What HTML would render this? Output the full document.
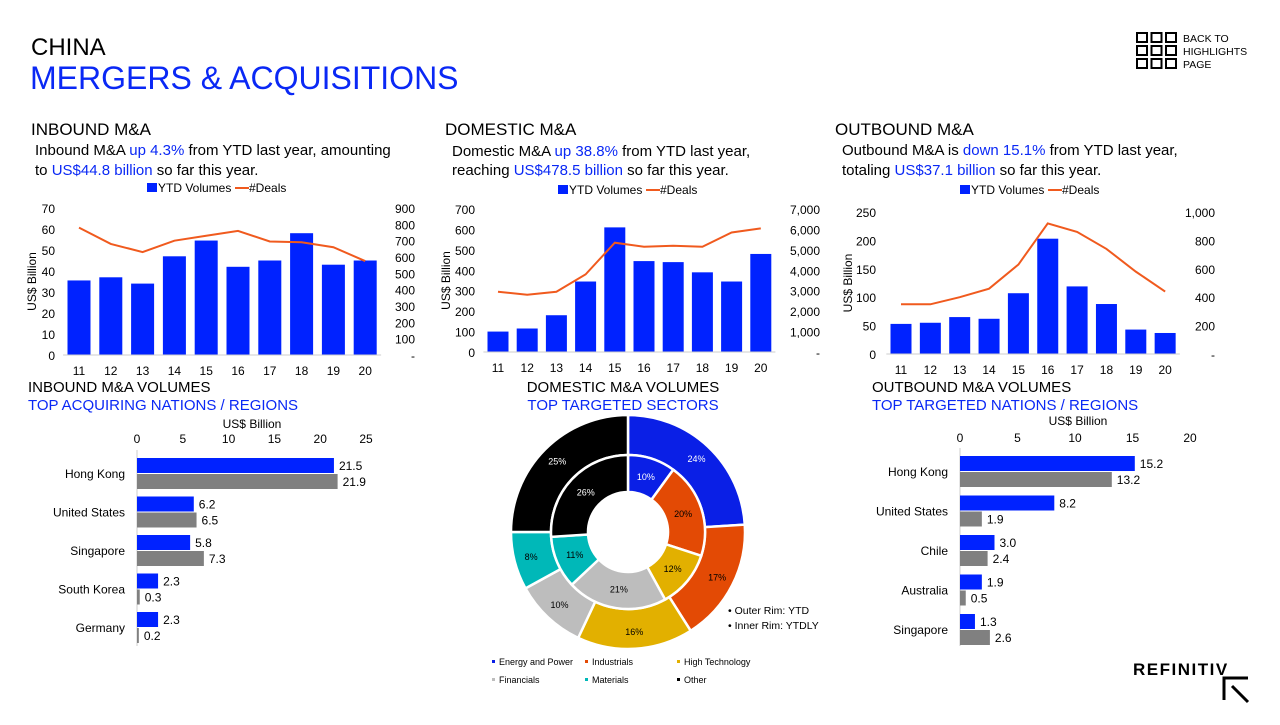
<!DOCTYPE html>
<html><head><meta charset="utf-8">
<style>
html,body{margin:0;padding:0;background:#fff;}
body{width:1280px;height:720px;overflow:hidden;position:relative;font-family:"Liberation Sans",Arial,sans-serif;}
svg text{font-family:"Liberation Sans",Arial,sans-serif;}
</style></head>
<body>
<svg id="s" width="1280" height="720" viewBox="0 0 1280 720" xmlns="http://www.w3.org/2000/svg">
<text x="31" y="55" font-size="24" fill="#000">CHINA</text>
<text x="30" y="89" font-size="32" fill="#0a28f5">MERGERS &amp; ACQUISITIONS</text>
<g id="back"></g>
<text x="1183" y="42" font-size="10.5" fill="#000">BACK TO</text>
<text x="1183" y="55" font-size="10.5" fill="#000">HIGHLIGHTS</text>
<text x="1183" y="68" font-size="10.5" fill="#000">PAGE</text>

<text x="31" y="135" font-size="17">INBOUND M&amp;A</text>
<text x="35" y="155" font-size="15">Inbound M&amp;A <tspan fill="#0a28f5">up 4.3%</tspan> from YTD last year, amounting</text>
<text x="35" y="175" font-size="15">to <tspan fill="#0a28f5">US$44.8 billion</tspan> so far this year.</text>

<text x="445" y="135" font-size="17">DOMESTIC M&amp;A</text>
<text x="452" y="156" font-size="15">Domestic M&amp;A <tspan fill="#0a28f5">up 38.8%</tspan> from YTD last year,</text>
<text x="452" y="175" font-size="15">reaching <tspan fill="#0a28f5">US$478.5 billion</tspan> so far this year.</text>

<text x="835" y="135" font-size="17">OUTBOUND M&amp;A</text>
<text x="842" y="155" font-size="15">Outbound M&amp;A is <tspan fill="#0a28f5">down 15.1%</tspan> from YTD last year,</text>
<text x="842" y="175" font-size="15">totaling <tspan fill="#0a28f5">US$37.1 billion</tspan> so far this year.</text>

<text x="28" y="392" font-size="15">INBOUND M&amp;A VOLUMES</text>
<text x="28" y="410" font-size="15" fill="#0a28f5">TOP ACQUIRING NATIONS / REGIONS</text>
<text x="623" y="392" font-size="15" text-anchor="middle">DOMESTIC M&amp;A VOLUMES</text>
<text x="623" y="410" font-size="15" fill="#0a28f5" text-anchor="middle">TOP TARGETED SECTORS</text>
<text x="872" y="392" font-size="15">OUTBOUND M&amp;A VOLUMES</text>
<text x="872" y="410" font-size="15" fill="#0a28f5">TOP TARGETED NATIONS / REGIONS</text>

<text x="1133" y="675" font-size="17" font-weight="bold" letter-spacing="1.5">REFINITIV</text>
<path d="M1224 700 V678 H1248 M1232 686 L1248 702" stroke="#000" stroke-width="3" fill="none"/>
<g id="charts"></g>
</svg>
<script>
// ===== Data =====
const years = ["11","12","13","14","15","16","17","18","19","20"];
const inboundVol = [35.5,37,34,47,54.5,42,45,58,43,45];
const inboundDeals = [780,680,630,700,730,760,695,690,660,575];
const domesticVol = [100,115,180,345,610,445,440,390,345,480];
const domesticDeals = [2950,2800,2950,3800,5350,5150,5200,5150,5850,6050];
const outboundVol = [53,55,65,62,107,203,119,88,43,37];
const outboundDeals = [350,350,400,460,630,920,860,740,580,440];
const inboundNations = ["Hong Kong","United States","Singapore","South Korea","Germany"];
const inboundYTD = [21.5,6.2,5.8,2.3,2.3];
const inboundYTDLY = [21.9,6.5,7.3,0.3,0.2];
const outboundNations = ["Hong Kong","United States","Chile","Australia","Singapore"];
const outboundYTD = [15.2,8.2,3.0,1.9,1.3];
const outboundYTDLY = [13.2,1.9,2.4,0.5,2.6];
const sectors = ["Energy and Power","Industrials","High Technology","Financials","Materials","Other"];
const outerRim = [24,17,16,10,8,25];
const innerRim = [10,20,12,21,11,26];

const BLUE="#0022ff", ORANGE="#f05a1e", GRAY="#808080";
const sectorColors=["#0a1fe6","#e34a05","#e2b000","#bdbdbd","#00b8b8","#000000"];
const NS="http://www.w3.org/2000/svg";
const root=document.getElementById('charts');
function mk(tag,attrs,parent,txt){const e=document.createElementNS(NS,tag);for(const k in attrs)e.setAttribute(k,attrs[k]);if(txt!==undefined)e.textContent=txt;(parent||root).appendChild(e);return e;}

// back icon
const back=document.getElementById('back');
for(let r=0;r<3;r++)for(let c=0;c<3;c++){const q=mk('rect',{x:1137+c*14.5,y:33+r*13,width:10,height:9,fill:'none',stroke:'#000','stroke-width':2},back);

}

function combo(cfg){
  const g=mk('g',{});
  
  
  const y=v=>cfg.y0-(v/cfg.lmax)*(cfg.y0-cfg.yTop);
  const yr=v=>cfg.y0-(v/cfg.rmax)*(cfg.y0-cfg.yTop);
  const x=i=>cfg.x0+i*cfg.step;
  // legend
  const lr=mk('rect',{x:cfg.legX,y:cfg.legY-9,width:10,height:9,fill:BLUE},g);
  
  
  const lt=mk('text',{x:cfg.legX+11,y:cfg.legY,'font-size':12},g,'YTD Volumes');
  
  
  const ll=mk('line',{x1:cfg.legX+88,x2:cfg.legX+102,y1:cfg.legY-4,y2:cfg.legY-4,stroke:ORANGE,'stroke-width':2},g);
  
  
  const lt2=mk('text',{x:cfg.legX+102,y:cfg.legY,'font-size':12},g,'#Deals');
  
  
  // left ticks
  cfg.lticks.forEach(t=>{const e=mk('text',{x:cfg.lx,y:y(t)+5,'font-size':12,'text-anchor':'end'},g,t);
    
    });
  cfg.rticks.forEach((t,i)=>{const e=mk('text',{x:cfg.rx,y:yr(cfg.rvals[i])+5,'font-size':12,'text-anchor':'end'},g,t);
    
    });
  const yt=mk('text',{x:0,y:0,'font-size':12,'text-anchor':'middle',transform:`translate(${cfg.ytx},${(cfg.y0+cfg.yTop)/2}) rotate(-90)`},g,'US$ Billion');
  
  
  cfg.vol.forEach((v,i)=>{const b=mk('rect',{x:x(i)-cfg.bw/2,y:y(v),width:cfg.bw,height:cfg.y0-y(v),fill:BLUE},g);
    
    
    const t=mk('text',{x:x(i),y:cfg.y0+20,'font-size':12,'text-anchor':'middle'},g,years[i]);
    
    });
  const ax=mk('line',{x1:x(0)-cfg.step/2,x2:x(9)+cfg.step/2,y1:cfg.y0,y2:cfg.y0,stroke:'#ccc','stroke-width':1},g);
  
  
  const p=mk('polyline',{points:cfg.deals.map((d,i)=>x(i)+','+yr(d)).join(' '),fill:'none',stroke:ORANGE,'stroke-width':2},g);
  
  
}
combo({name:'inbound-chart',vol:inboundVol,deals:inboundDeals,lmax:70,rmax:900,y0:355,yTop:208,x0:79,step:31.8,bw:23,
  lticks:[0,10,20,30,40,50,60,70],rticks:["-","100","200","300","400","500","600","700","800","900"],rvals:[0,100,200,300,400,500,600,700,800,900],
  lx:55,rx:415,ytx:36,legX:147,legY:192});
combo({name:'domestic-chart',vol:domesticVol,deals:domesticDeals,lmax:700,rmax:7000,y0:352,yTop:209,x0:498,step:29.2,bw:21,
  lticks:[0,100,200,300,400,500,600,700],rticks:["-","1,000","2,000","3,000","4,000","5,000","6,000","7,000"],rvals:[0,1000,2000,3000,4000,5000,6000,7000],
  lx:475,rx:820,ytx:450,legX:558,legY:194});
combo({name:'outbound-chart',vol:outboundVol,deals:outboundDeals,lmax:250,rmax:1000,y0:354,yTop:212,x0:901,step:29.35,bw:21,
  lticks:[0,50,100,150,200,250],rticks:["-","200","400","600","800","1,000"],rvals:[0,200,400,600,800,1000],
  lx:876,rx:1215,ytx:852,legX:960,legY:194});

function hbar(cfg){
  const g=mk('g',{});
  
  
  const x=v=>cfg.x0+v*cfg.k;
  const t=mk('text',{x:cfg.titleX,y:cfg.titleY,'font-size':12,'text-anchor':'middle'},g,'US$ Billion');
  
  
  cfg.ticks.forEach(v=>{const e=mk('text',{x:x(v),y:cfg.tickY,'font-size':12,'text-anchor':'middle'},g,v);
    
    });
  const a=mk('line',{x1:cfg.x0,x2:cfg.x0,y1:cfg.axTop,y2:cfg.axBot,stroke:'#ccc'},g);
  
  
  cfg.cats.forEach((c,i)=>{const cy=cfg.rowY0+i*cfg.rowStep;
    const l=mk('text',{x:cfg.x0-12,y:cy+4,'font-size':12,'text-anchor':'end'},g,c);
    
    
    const b1=mk('rect',{x:cfg.x0,y:cy-16,width:x(cfg.a[i])-cfg.x0,height:15,fill:BLUE},g);
    
    
    const b2=mk('rect',{x:cfg.x0,y:cy,width:x(cfg.b[i])-cfg.x0,height:15,fill:GRAY},g);
    
    
    const v1=mk('text',{x:x(cfg.a[i])+5,y:cy-4,'font-size':12},g,cfg.a[i].toFixed(1));
    
    
    const v2=mk('text',{x:x(cfg.b[i])+5,y:cy+12,'font-size':12},g,cfg.b[i].toFixed(1));
    
    });
}
hbar({name:'inbound-nations-chart',cats:inboundNations,a:inboundYTD,b:inboundYTDLY,x0:137,k:9.16,ticks:[0,5,10,15,20,25],tickY:443,titleX:252,titleY:428,axTop:450,axBot:646,rowY0:474,rowStep:38.5});
hbar({name:'outbound-nations-chart',cats:outboundNations,a:outboundYTD,b:outboundYTDLY,x0:960,k:11.5,ticks:[0,5,10,15,20],tickY:442,titleX:1078,titleY:425,axTop:448,axBot:646,rowY0:472,rowStep:39.5});

// donut
const cx=628,cy=532;
function arc(r0,r1,a0,a1){const p=(r,a)=>[cx+r*Math.sin(a),cy-r*Math.cos(a)];const L=(a1-a0)>Math.PI?1:0;
  const [x1,y1]=p(r1,a0),[x2,y2]=p(r1,a1),[x3,y3]=p(r0,a1),[x4,y4]=p(r0,a0);
  return `M${x1},${y1}A${r1},${r1} 0 ${L} 1 ${x2},${y2}L${x3},${y3}A${r0},${r0} 0 ${L} 0 ${x4},${y4}Z`;}
const dg=mk('g',{});


function ring(vals,r0,r1,rl,nm){const tot=vals.reduce((a,b)=>a+b,0);let a=0;
  vals.forEach((v,i)=>{const a0=a/tot*2*Math.PI;a+=v;const a1=a/tot*2*Math.PI;
    const s=mk('path',{d:arc(r0,r1,a0,a1),fill:sectorColors[i],stroke:'#fff','stroke-width':2.5},dg);
    
    
    const m=(a0+a1)/2;
    const t=mk('text',{x:cx+rl*Math.sin(m),y:cy-rl*Math.cos(m)+3,'font-size':9,'text-anchor':'middle',fill:(i===0||i===5)?'#fff':'#000'},dg,v+'%');
    
    });}
ring(outerRim,77,117,100,'outer');
ring(innerRim,40,77,58,'inner');
const lg=[['• Outer Rim: YTD',614],['• Inner Rim: YTDLY',629]];
lg.forEach(l=>{const t=mk('text',{x:728,y:l[1],'font-size':10.5},dg,l[0]);
  
  });
const lpos=[[492,665],[585,665],[677,665],[492,683],[585,683],[677,683]];
sectors.forEach((s,i)=>{
  const d=mk('rect',{x:lpos[i][0],y:lpos[i][1]-5,width:3,height:3,fill:sectorColors[i]},dg);
  
  
  const t=mk('text',{x:lpos[i][0]+7,y:lpos[i][1],'font-size':9},dg,s);
  
  });
</script>
</body></html>
